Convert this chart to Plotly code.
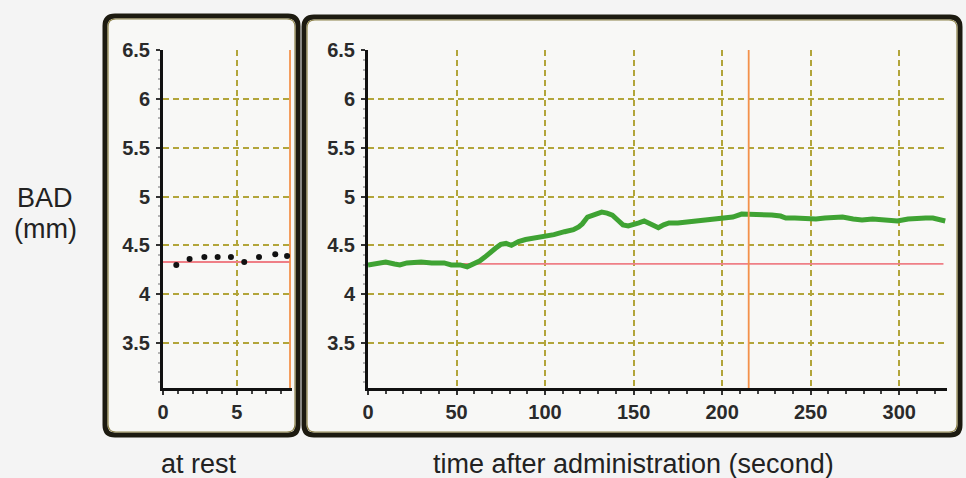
import plotly.graph_objects as go

W, H = 966, 478

# ---------------- data ----------------
rest_x = [0.9, 1.8, 2.8, 3.7, 4.6, 5.5, 6.5, 7.6, 8.4]
rest_y = [4.30, 4.36, 4.38, 4.38, 4.38, 4.33, 4.38, 4.41, 4.39]
rest_baseline = 4.33
rest_marker_x = 8.6

time_s = [0, 5, 10, 15, 18, 22, 30, 36, 43, 47, 52, 56, 60, 63, 66, 69, 72, 75, 78, 81,
          85, 89, 95, 100, 105, 111, 116, 119, 121, 124, 128, 132, 135, 138, 141, 144,
          147, 150, 153, 156, 160, 164, 167, 170, 175, 181, 188, 194, 200, 206, 211,
          216, 220, 228, 233, 236, 241, 247, 253, 258, 263, 268, 274, 279, 285, 290,
          295, 299, 305, 311, 315, 319, 323, 326]
bad_mm = [4.30, 4.32, 4.33, 4.31, 4.30, 4.32, 4.33, 4.32, 4.32, 4.30, 4.30, 4.28, 4.31,
          4.34, 4.38, 4.43, 4.47, 4.51, 4.52, 4.50, 4.54, 4.56, 4.58, 4.59, 4.61, 4.64,
          4.66, 4.69, 4.72, 4.79, 4.82, 4.84, 4.83, 4.81, 4.76, 4.71, 4.70, 4.71, 4.73,
          4.75, 4.72, 4.68, 4.71, 4.73, 4.73, 4.74, 4.75, 4.77, 4.78, 4.79, 4.82, 4.82,
          4.81, 4.81, 4.80, 4.78, 4.78, 4.77, 4.77, 4.78, 4.79, 4.79, 4.77, 4.76, 4.77,
          4.76, 4.76, 4.75, 4.77, 4.78, 4.78, 4.78, 4.76, 4.75]
post_baseline = 4.31
post_baseline_end = 325
post_marker_x = 215

y_ticks = [3.5, 4, 4.5, 5, 5.5, 6, 6.5]
y_min, y_max = 3.04, 6.5
rest_xmax = 8.7
post_xmax = 327

# ---------------- styles ----------------
GRID = "#b2a53a"
GREEN = "#3fa333"
RED = "#ef7f86"
ORANGE = "#f3914a"
TICKFONT = dict(family="Liberation Sans, Arial, sans-serif",
                size=20, color="#2a2a2a", weight="bold")
LABELFONT = dict(family="Liberation Sans, Arial, sans-serif", size=27, color="#222222")


def fx(px):
    return px / W


def fy(py):
    return 1 - py / H


fig = go.Figure()

# left panel (at rest)
fig.add_trace(go.Scatter(x=[0, rest_marker_x], y=[rest_baseline, rest_baseline], mode="lines",
                         line=dict(color=RED, width=1.8), xaxis="x", yaxis="y",
                         hoverinfo="skip"))
fig.add_trace(go.Scatter(x=[rest_marker_x, rest_marker_x], y=[y_min, y_max], mode="lines",
                         line=dict(color=ORANGE, width=1.8), xaxis="x", yaxis="y",
                         hoverinfo="skip"))
fig.add_trace(go.Scatter(x=rest_x, y=rest_y, mode="markers",
                         marker=dict(color="#111111", size=6), xaxis="x", yaxis="y"))

# right panel (after administration)
fig.add_trace(go.Scatter(x=[0, post_baseline_end], y=[post_baseline, post_baseline],
                         mode="lines", line=dict(color=RED, width=1.8),
                         xaxis="x2", yaxis="y2", hoverinfo="skip"))
fig.add_trace(go.Scatter(x=time_s, y=bad_mm, mode="lines",
                         line=dict(color=GREEN, width=5),
                         xaxis="x2", yaxis="y2"))
fig.add_trace(go.Scatter(x=[post_marker_x, post_marker_x], y=[y_min, y_max], mode="lines",
                         line=dict(color=ORANGE, width=1.8), xaxis="x2", yaxis="y2",
                         hoverinfo="skip"))

axis_common = dict(showline=True, linecolor="#111111", linewidth=3, zeroline=False,
                   showgrid=True, gridcolor=GRID, gridwidth=2, griddash="6px,4px",
                   ticks="outside", tickcolor="#333333", tickwidth=1.5,
                   tickfont=TICKFONT, fixedrange=True, automargin=False)

y_dom = [fy(388), fy(50)]

fig.update_layout(
    width=W, height=H,
    margin=dict(l=0, r=0, t=0, b=0, pad=0),
    paper_bgcolor="#f4f4f4",
    plot_bgcolor="rgba(0,0,0,0)",
    showlegend=False,
    xaxis=dict(axis_common, domain=[fx(163), fx(291.5)], range=[0, rest_xmax],
               tickvals=[0, 5], ticklen=4, anchor="y", ticklabelstandoff=0,
               minor=dict(ticks="outside", dtick=1, ticklen=3, tickcolor="#444444",
                          showgrid=False)),
    yaxis=dict(axis_common, domain=y_dom, range=[y_min, y_max], tickvals=y_ticks,
               ticklen=4, anchor="x", ticklabelstandoff=2,
               minor=dict(ticks="outside", dtick=0.1, ticklen=2, tickcolor="#b5b5b5",
                          showgrid=False)),
    xaxis2=dict(axis_common, domain=[fx(368), fx(947)], range=[0, post_xmax],
                dtick=50, tick0=0, ticklen=4, anchor="y2", ticklabelstandoff=0,
                minor=dict(ticks="outside", dtick=10, ticklen=3, tickcolor="#444444",
                           showgrid=False)),
    yaxis2=dict(axis_common, domain=y_dom, range=[y_min, y_max], tickvals=y_ticks,
                ticklen=4, anchor="x2", ticklabelstandoff=2,
                minor=dict(ticks="outside", dtick=0.1, ticklen=2, tickcolor="#b5b5b5",
                           showgrid=False)),
)


def rounded_path(x0, y0, x1, y1, r):
    pts = [
        ("M", fx(x0 + r), fy(y0)),
        ("L", fx(x1 - r), fy(y0)),
        ("Q", fx(x1), fy(y0), fx(x1), fy(y0 + r)),
        ("L", fx(x1), fy(y1 - r)),
        ("Q", fx(x1), fy(y1), fx(x1 - r), fy(y1)),
        ("L", fx(x0 + r), fy(y1)),
        ("Q", fx(x0), fy(y1), fx(x0), fy(y1 - r)),
        ("L", fx(x0), fy(y0 + r)),
        ("Q", fx(x0), fy(y0), fx(x0 + r), fy(y0)),
    ]
    s = ""
    for p in pts:
        s += p[0] + " " + " ".join(f"{v:.5f}" for v in p[1:]) + " "
    return s + "Z"


shapes = []
for (x0, y0, x1, y1) in [(105, 16, 298, 435), (304, 17, 960, 435)]:
    shapes.append(dict(type="path", xref="paper", yref="paper", layer="below",
                       path=rounded_path(x0, y0, x1, y1, 10),
                       fillcolor="#f8f8f6", line=dict(color="#1c1a10", width=5)))
    shapes.append(dict(type="path", xref="paper", yref="paper", layer="below",
                       path=rounded_path(x0 + 3, y0 + 3, x1 - 3, y1 - 3, 8),
                       fillcolor="rgba(0,0,0,0)", line=dict(color="#8c8148", width=1.2)))
fig.update_layout(shapes=shapes)

annotations = [
    dict(text="BAD", x=fx(45), y=fy(198)),
    dict(text="(mm)", x=fx(45), y=fy(229)),
    dict(text="at rest", x=fx(199), y=fy(464)),
    dict(text="time after administration (second)", x=fx(633), y=fy(464)),
]
fig.update_layout(annotations=[dict(a, xref="paper", yref="paper", showarrow=False,
                                    xanchor="center", yanchor="middle", font=LABELFONT,
                                    borderpad=0)
                               for a in annotations])

fig.write_html("out.html", config={"displayModeBar": False},
               post_script="document.body.style.margin='0';")
